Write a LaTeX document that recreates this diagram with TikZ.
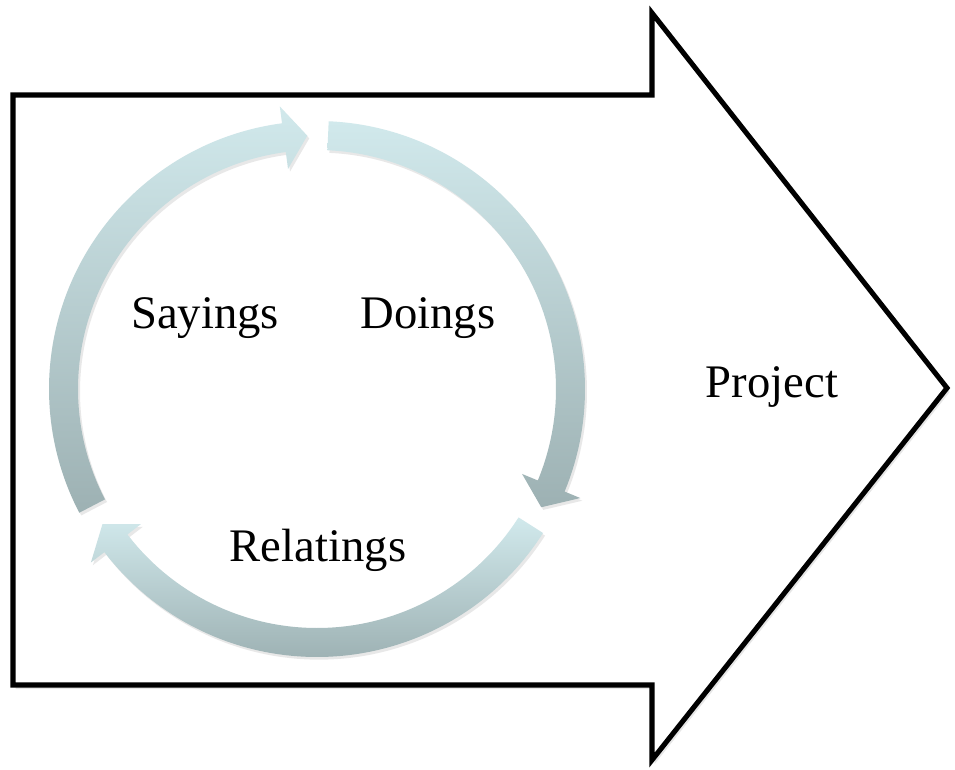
\documentclass[tikz,border=0pt]{standalone}
\usepackage{xcolor}
\usepackage{fontspec}
\setmainfont{Liberation Serif}
\usepackage{tikz}
\usetikzlibrary{shadows}

\definecolor{ringtop}{RGB}{209,233,236}
\definecolor{ringbottom}{RGB}{157,177,179}

\begin{document}
\begin{tikzpicture}[x=0.75pt, y=0.75pt,
    blockarrow/.style={draw=black, line width=3.8pt, fill=white, line join=miter,
drop shadow={opacity=0.2, shadow xshift=2pt, shadow yshift=-3pt}},
    ringarrow/.style={top color=ringtop, bottom color=ringbottom, draw=none,
drop shadow={opacity=0.18, shadow xshift=1.5pt, shadow yshift=-2pt}},
    label/.style={anchor=base, inner sep=0pt, font=\fontsize{35}{40}\selectfont}]
\useasboundingbox (0,0) rectangle (955,769);

\path[blockarrow] (13,674) -- (652,674) -- (652,756) -- (947,381) -- (652,9)
  -- (652,84) -- (13,84) -- cycle;

\begin{scope}[shift={(317,380)}]
\shade[ringarrow] (207.5:268) arc[start angle=207.5, end angle=97.5, radius=268]
  -- (97.5:285) -- (92.2:253.5) -- (97.5:222) -- (97.5:239)
  arc[start angle=97.5, end angle=207.5, radius=239] -- cycle;
\shade[ringarrow] (87.5:268) arc[start angle=87.5, end angle=-22.5, radius=268]
  -- (-22.5:285) -- (-27.8:253.5) -- (-22.5:222) -- (-22.5:239)
  arc[start angle=-22.5, end angle=87.5, radius=239] -- cycle;
\shade[ringarrow] (-32.5:268) arc[start angle=-32.5, end angle=-142.5, radius=268]
  -- (-142.5:285) -- (-147.8:253.5) -- (-142.5:222) -- (-142.5:239)
  arc[start angle=-142.5, end angle=-32.5, radius=239] -- cycle;
\end{scope}

\node[label] (sayings)   at (205,441) {Sayings};
\node[label] (doings)    at (428,441) {Doings};
\node[label] (relatings) at (318,208) {Relatings};
\node[label] (project)   at (772,372) {Project};
\end{tikzpicture}
\end{document}
